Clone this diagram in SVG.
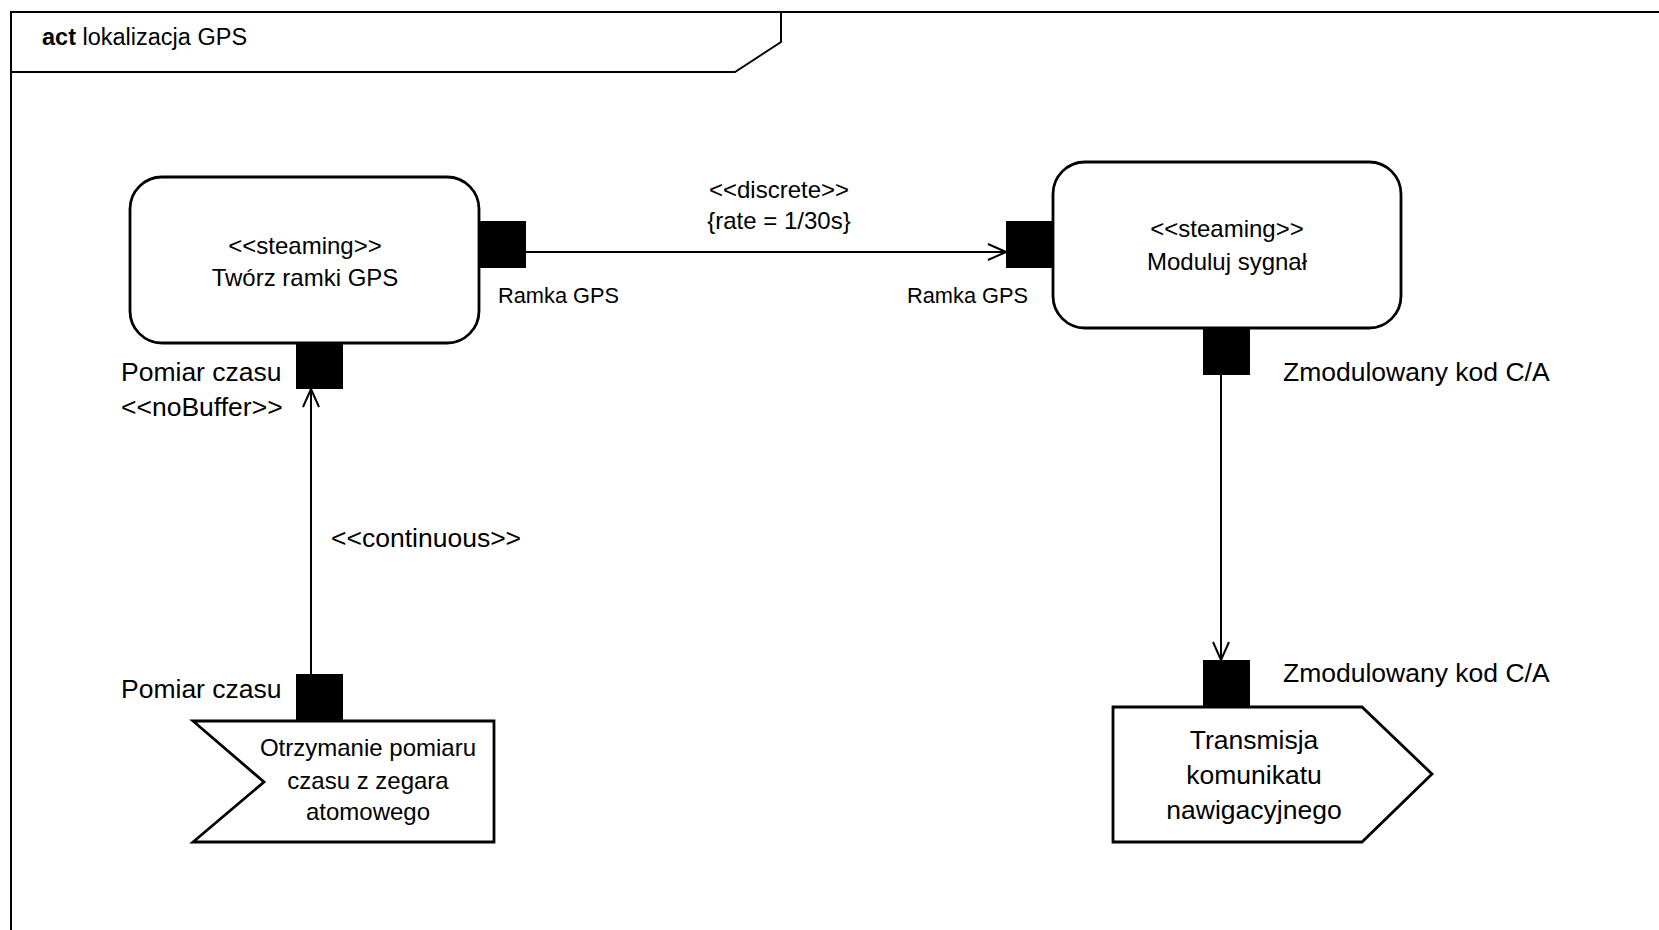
<svg xmlns="http://www.w3.org/2000/svg" width="1659" height="930" viewBox="0 0 1659 930">
  <style>
    text { font-family: "Liberation Sans", Arial, sans-serif; fill: #000; }
    .frame { fill: none; stroke: #000; stroke-width: 2; }
    .action { fill: #fff; stroke: #000; stroke-width: 2.8; }
    .pin { fill: #000; stroke: none; }
    .flow { fill: none; stroke: #000; stroke-width: 2; }
    .node-text { font-size: 24px; text-anchor: middle; }
    .signal-text { font-size: 26.5px; text-anchor: middle; }
    .label { font-size: 26.5px; }
    .small { font-size: 21.8px; }
  </style>
  <defs>
    <marker id="open-arrow" viewBox="0 0 20 20" refX="19" refY="10" markerWidth="20" markerHeight="20" markerUnits="userSpaceOnUse" orient="auto">
      <path d="M1,2 L19,10 L1,18" fill="none" stroke="#000" stroke-width="2"/>
    </marker>
  </defs>

  <rect width="1659" height="930" fill="#fff"/>

  <!-- activity frame -->
  <g id="frame">
    <rect class="frame" x="11" y="12" width="1700" height="1000"/>
    <path class="frame" d="M11,72 L735,72 L781,42 L781,12"/>
    <text x="42" y="45" font-size="23.5"><tspan font-weight="bold">act</tspan>  lokalizacja GPS</text>
  </g>

  <!-- flows -->
  <g id="connectors">
    <line class="flow" x1="526" y1="252" x2="1006" y2="252" marker-end="url(#open-arrow)"/>
    <line class="flow" x1="311" y1="674" x2="311" y2="389" marker-end="url(#open-arrow)"/>
    <line class="flow" x1="1221" y1="375" x2="1221" y2="660" marker-end="url(#open-arrow)"/>
    <text class="node-text" x="779" y="198">&lt;&lt;discrete&gt;&gt;</text>
    <text class="node-text" x="779" y="229" font-size="24.8">{rate = 1/30s}</text>
    <text class="label" x="331" y="547" font-size="26.8">&lt;&lt;continuous&gt;&gt;</text>
  </g>

  <!-- action: Twórz ramki GPS -->
  <g id="tworz-ramki">
    <rect class="action" x="130" y="177" width="349" height="166" rx="32" ry="32"/>
    <text class="node-text" x="305" y="254" font-size="22.5">&lt;&lt;steaming&gt;&gt;</text>
    <text class="node-text" x="305" y="286">Twórz ramki GPS</text>
    <rect class="pin" x="479" y="221" width="47" height="47"/>
    <text class="small" x="498" y="303">Ramka GPS</text>
    <rect class="pin" x="296" y="343" width="47" height="46"/>
    <text class="label" x="121" y="381" font-size="24.2">Pomiar czasu</text>
    <text class="label" x="121" y="416">&lt;&lt;noBuffer&gt;&gt;</text>
  </g>

  <!-- action: Moduluj sygnał -->
  <g id="moduluj-sygnal">
    <rect class="action" x="1053" y="162" width="348" height="166" rx="32" ry="32"/>
    <text class="node-text" x="1227" y="237" font-size="22.5">&lt;&lt;steaming&gt;&gt;</text>
    <text class="node-text" x="1227" y="270" font-size="24.7">Moduluj sygnał</text>
    <rect class="pin" x="1006" y="221" width="47" height="47"/>
    <text class="small" x="907" y="303">Ramka GPS</text>
    <rect class="pin" x="1203" y="328" width="47" height="47"/>
    <text class="label" x="1283" y="381" font-size="27">Zmodulowany kod C/A</text>
  </g>

  <!-- accept event action -->
  <g id="otrzymanie-pomiaru">
    <path class="action" d="M193,721 L494,721 L494,842 L193,842 L264,782 Z"/>
    <rect class="pin" x="296" y="674" width="47" height="47"/>
    <text class="label" x="121" y="698" font-size="24.2">Pomiar czasu</text>
    <text class="node-text" x="368" y="756" font-size="24.5">Otrzymanie pomiaru</text>
    <text class="node-text" x="368" y="789" font-size="24.5">czasu z zegara</text>
    <text class="node-text" x="368" y="820" font-size="24.5">atomowego</text>
  </g>

  <!-- send signal action -->
  <g id="transmisja">
    <path class="action" d="M1113,707 L1362,707 L1432,774 L1362,842 L1113,842 Z"/>
    <rect class="pin" x="1203" y="660" width="47" height="47"/>
    <text class="label" x="1283" y="682" font-size="27">Zmodulowany kod C/A</text>
    <text class="signal-text" x="1254" y="749">Transmisja</text>
    <text class="signal-text" x="1254" y="784">komunikatu</text>
    <text class="signal-text" x="1254" y="819">nawigacyjnego</text>
  </g>
</svg>
